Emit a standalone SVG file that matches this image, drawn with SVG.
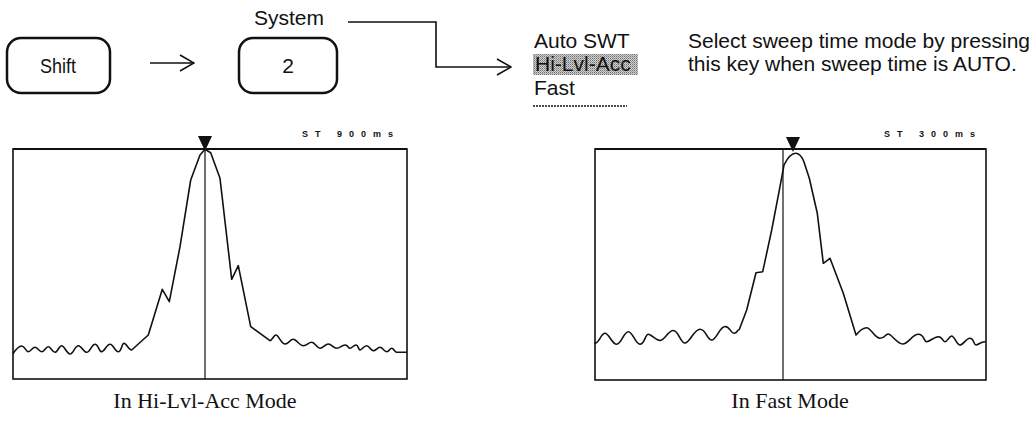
<svg xmlns="http://www.w3.org/2000/svg" width="1036" height="424" viewBox="0 0 1036 424">
<style>
.key{fill:#fff;stroke:#111;stroke-width:2.5}
.kt{font-family:"Liberation Sans",Arial,sans-serif;font-size:21px;fill:#111;text-anchor:middle}
.lbl{font-family:"Liberation Sans",Arial,sans-serif;font-size:21px;fill:#111}
.con{fill:none;stroke:#111;stroke-width:1.6}
.frame{fill:none;stroke:#111;stroke-width:1.6}
.trace{fill:none;stroke:#111;stroke-width:1.6;stroke-linejoin:round;stroke-linecap:round}
.st{font-family:"Liberation Sans",Arial,sans-serif;font-size:9px;font-weight:bold;letter-spacing:7px;fill:#111}
.cap{font-family:"Liberation Serif","Times New Roman",serif;font-size:22px;fill:#111;text-anchor:middle}
</style>
<defs>
<marker id="chev" viewBox="0 0 16 18" refX="15" refY="9" markerWidth="16" markerHeight="18" markerUnits="userSpaceOnUse" orient="auto">
<path d="M1,1 L15,9 L1,17" fill="none" stroke="#111" stroke-width="1.6"/>
</marker>
<pattern id="dots" width="2" height="2" patternUnits="userSpaceOnUse">
<rect width="2" height="2" fill="#d2d2d2"/>
<rect width="1" height="1" fill="#6e6e6e"/>
<rect x="1" y="1" width="1" height="1" fill="#9a9a9a"/>
</pattern>
</defs>
<rect width="1036" height="424" fill="#fff"/>

<g id="node-shift">
<rect class="key" x="7" y="38" width="103" height="55" rx="14"/>
<text class="kt" x="58" y="73" textLength="36" lengthAdjust="spacingAndGlyphs">Shift</text>
</g>
<g id="node-2">
<text class="kt" x="289" y="25">System</text>
<rect class="key" x="239" y="38" width="98" height="55" rx="14"/>
<text class="kt" x="288" y="73">2</text>
</g>
<g id="connectors">
<line class="con" x1="150" y1="63" x2="194" y2="63" marker-end="url(#chev)"/>
<polyline class="con" points="348,22 436,22 436,67 511,67" marker-end="url(#chev)"/>
</g>
<g id="node-menu">
<text class="lbl" x="534" y="48">Auto SWT</text>
<rect x="533" y="54" width="105" height="21" fill="url(#dots)"/>
<text class="lbl" x="535" y="71" fill="#333">Hi-Lvl-Acc</text>
<text class="lbl" x="534" y="95">Fast</text>
<line x1="533" y1="106" x2="627" y2="106" stroke="#111" stroke-width="1.3" stroke-dasharray="2,1"/>
</g>
<g id="node-desc">
<text class="lbl" x="688" y="48">Select sweep time mode by pressing</text>
<text class="lbl" x="688" y="71">this key when sweep time is AUTO.</text>
</g>

<g id="graph-left">
<text class="st" x="302" y="137">ST 900ms</text>
<rect class="frame" x="13" y="149" width="394" height="230"/>
<line x1="13" y1="149" x2="407" y2="149" stroke="#111" stroke-width="2"/>
<line x1="205" y1="149" x2="205" y2="379" stroke="#111" stroke-width="1.2"/>
<polygon points="198,136 212,136 205,151" fill="#111"/>
<path class="trace" d="M13.3,353.3 C15.5,350 18.3,346 21.7,346 S25.7,351.7 28.3,351.7 S32.3,347.3 35,347.3 S39,351.7 41.7,351.7 S45.7,346.7 48.3,346.7 S52.3,352.3 55,352.3 S59,345.7 61.7,345.7 S66.7,354 70,354 S75,345.7 78.3,345.7 S83.4,352.3 86.7,352.3 S91.7,344.3 95,344.3 S99,351.7 101.7,351.7 S106.7,344.3 110,344.3 S115,351.7 118.3,351.7 S121.7,343.3 124,343.3 S128.6,350 131.7,350 L148.3,335 L162.3,289.3 L169.3,301.7 L180,246.7 L190.7,180 L200,155 L205,149.3 L210.7,152.7 L220,178.3 L231.7,279.3 L238.3,265.7 L250.7,326.7 L270,340.7 C272,340.7 273.6,335 276,335 S281.4,344 285,344 S290,339.3 293.3,339.3 S299.3,345.7 303.3,345.7 S308.3,342.3 311.7,342.3 S316.7,348.3 320,348.3 S325,344 328.3,344 S333.3,348.3 336.7,348.3 S341.7,345 345,345 S348,348.3 350,348.3 S353.6,345 356,345 S358.4,350 360,350 S364,345.7 366.7,345.7 S370.7,350.7 373.3,350.7 S377.3,347.3 380,347.3 S384,351.7 386.7,351.7 S389.7,348.3 391.7,348.3 S394.7,352.3 396.7,352.3 L406,352.3"/>
<text class="cap" x="205" y="408">In Hi-Lvl-Acc Mode</text>
</g>

<g id="graph-right">
<text class="st" x="884" y="137">ST 300ms</text>
<rect class="frame" x="595" y="149" width="391" height="231"/>
<line x1="595" y1="149" x2="986" y2="149" stroke="#111" stroke-width="2"/>
<line x1="783" y1="149" x2="783" y2="380" stroke="#111" stroke-width="1.2"/>
<polygon points="786,137 800,137 793,152" fill="#111"/>
<path class="trace" d="M595,343.3 C599,343.3 601,333.3 605,333.3 S612,344.3 616.7,344.3 S623.7,331.7 628.3,331.7 S635.3,344.3 640,344.3 S645,334.3 648.3,334.3 S655.3,340.5 660,340.5 S668,330.5 673.3,330.5 S680.3,343 685,343 S694,329.3 700,329.3 S707,340 711.7,340 S719.7,326.5 725,326.5 S730.4,333.3 734,333.3 S737.2,329.5 739.3,329.5 L746.7,310 L756,272.7 L762.7,271.7 L771.7,230 L780,186.7 L784,165 Q790,153 796,153.3 Q801,154 804,162 L809.3,178.3 L817.3,213.3 L823.3,263.3 L830,258.3 L843.3,293.3 L856,335 C860,330 862.5,327.7 866.7,327.7 S874.7,338.3 880,338.3 S885,334 888.3,334 S897,344 902.7,344 S912,334.3 918.3,334.3 S923.4,341.7 926.7,341.7 S933.7,336.7 938.3,336.7 S942.3,341.7 945,341.7 S949,336 951.7,336 S956.7,345 960,345 S966,338.3 970,338.3 S973.6,345 976,345 S980.4,341.7 985,341.7"/>
<text class="cap" x="790" y="408">In Fast Mode</text>
</g>
</svg>
